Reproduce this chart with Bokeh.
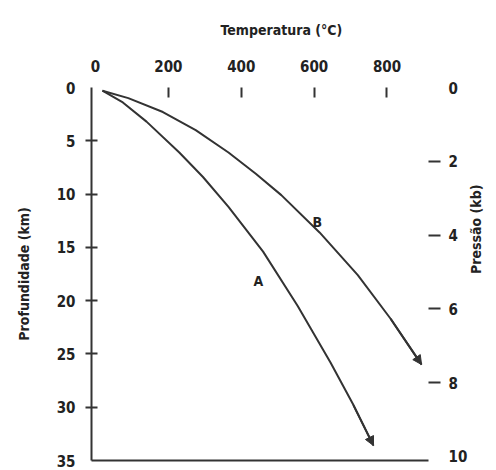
import math
from bokeh.plotting import figure
from bokeh.models import Range1d, LinearAxis, FixedTicker, Arrow, NormalHead, Label
from bokeh.embed import file_html
from bokeh.resources import INLINE

# --- data ---
temp_ticks = [0, 200, 400, 600, 800]
depth_ticks = [0, 5, 10, 15, 20, 25, 30, 35]
press_ticks = [0, 2, 4, 6, 8, 10]

a_temp = [19, 75, 140, 230, 295, 365, 460, 555, 645, 708, 763]
a_depth = [0.3, 1.4, 3.2, 6.1, 8.4, 11.2, 15.4, 20.5, 25.8, 29.8, 33.6]

b_temp = [19, 90, 185, 275, 365, 440, 510, 615, 720, 810, 895]
b_depth = [0.3, 1.0, 2.3, 4.0, 6.1, 8.1, 10.1, 13.6, 17.6, 21.7, 26.0]

labels = ["A", "B"]
label_temp = [447, 609]
label_depth = [18.2, 12.6]

FONT = "'DejaVu Sans Condensed', 'Liberation Sans Narrow', Roboto, sans-serif"
INK = "#222222"
LINE = "#333333"

p = figure(width=496, height=470, x_range=Range1d(-11, 914), y_range=Range1d(35, 0),
           x_axis_location="above", output_backend="svg", toolbar_location=None,
           min_border_left=91, min_border_right=68, min_border_top=86, min_border_bottom=10)
p.xgrid.visible = False
p.ygrid.visible = False
p.outline_line_color = None
p.background_fill_color = "white"
p.border_fill_color = "white"

# top axis (temperature)
xa = p.xaxis[0]
xa.ticker = FixedTicker(ticks=temp_ticks, minor_ticks=temp_ticks[1:])
xa.axis_line_color = None
xa.major_tick_in = 0
xa.major_tick_out = 0
xa.minor_tick_in = 10
xa.minor_tick_out = 0
xa.minor_tick_line_width = 2
xa.minor_tick_line_color = LINE
xa.major_label_standoff = 16
xa.major_label_text_font = FONT
xa.major_label_text_font_style = "bold"
xa.major_label_text_font_size = "15px"
xa.major_label_text_color = INK

p.title.text = "Temperatura (°C)"
p.title.align = "left"
p.title.offset = 129
p.title.text_font = FONT
p.title.text_font_style = "bold"
p.title.text_font_size = "14px"
p.title.text_color = INK
p.title.standoff = 38

# left axis (depth)
ya = p.yaxis[0]
ya.ticker = FixedTicker(ticks=depth_ticks, minor_ticks=depth_ticks[1:-1])
ya.axis_line_width = 2
ya.axis_line_color = LINE
ya.major_tick_in = 0
ya.major_tick_out = 0
ya.minor_tick_in = 6
ya.minor_tick_out = 6
ya.minor_tick_line_width = 2
ya.minor_tick_line_color = LINE
ya.major_label_standoff = 10
ya.major_label_text_font = FONT
ya.major_label_text_font_style = "bold"
ya.major_label_text_font_size = "15px"
ya.major_label_text_color = INK
ya.axis_label = "Profundidade (km)"
ya.axis_label_text_font = FONT
ya.axis_label_text_font_style = "bold"
ya.axis_label_text_font_size = "14px"
ya.axis_label_text_color = INK
ya.axis_label_standoff = 22

# right axis (pressure)
p.extra_y_ranges = {"press": Range1d(10.11, 0)}
ra = LinearAxis(y_range_name="press",
                ticker=FixedTicker(ticks=press_ticks, minor_ticks=press_ticks[1:-1]))
ra.axis_line_color = None
ra.major_tick_in = 0
ra.major_tick_out = 0
ra.minor_tick_in = 0
ra.minor_tick_out = 12
ra.minor_tick_line_width = 2
ra.minor_tick_line_color = LINE
ra.major_label_standoff = 8
ra.major_label_text_font = FONT
ra.major_label_text_font_style = "bold"
ra.major_label_text_font_size = "15px"
ra.major_label_text_color = INK
ra.axis_label = "Pressão (kb)"
ra.axis_label_text_font = FONT
ra.axis_label_text_font_style = "bold"
ra.axis_label_text_font_size = "14px"
ra.axis_label_text_color = INK
ra.axis_label_standoff = 6
ra.axis_label_orientation = math.pi / 2
p.add_layout(ra, "right")

# bottom line
ba = LinearAxis(ticker=FixedTicker(ticks=[]))
ba.axis_line_width = 2
ba.axis_line_color = LINE
ba.major_tick_in = 0
ba.major_tick_out = 0
ba.major_label_text_font_size = "0px"
ba.major_label_standoff = 0
p.add_layout(ba, "below")

# curves
for xs, ys in [(a_temp, a_depth), (b_temp, b_depth)]:
    p.line(xs, ys, line_color=LINE, line_width=2)
    p.add_layout(Arrow(end=NormalHead(size=9, fill_color=LINE, line_color=LINE),
                       x_start=xs[-2], y_start=ys[-2], x_end=xs[-1], y_end=ys[-1],
                       line_color=LINE, line_width=2))

for t, x, y in zip(labels, label_temp, label_depth):
    p.add_layout(Label(x=x, y=y, text=t, text_font=FONT, text_font_style="bold",
                       text_font_size="14px", text_color=INK,
                       text_align="center", text_baseline="middle"))

open("out.html", "w").write(file_html(p, INLINE))
